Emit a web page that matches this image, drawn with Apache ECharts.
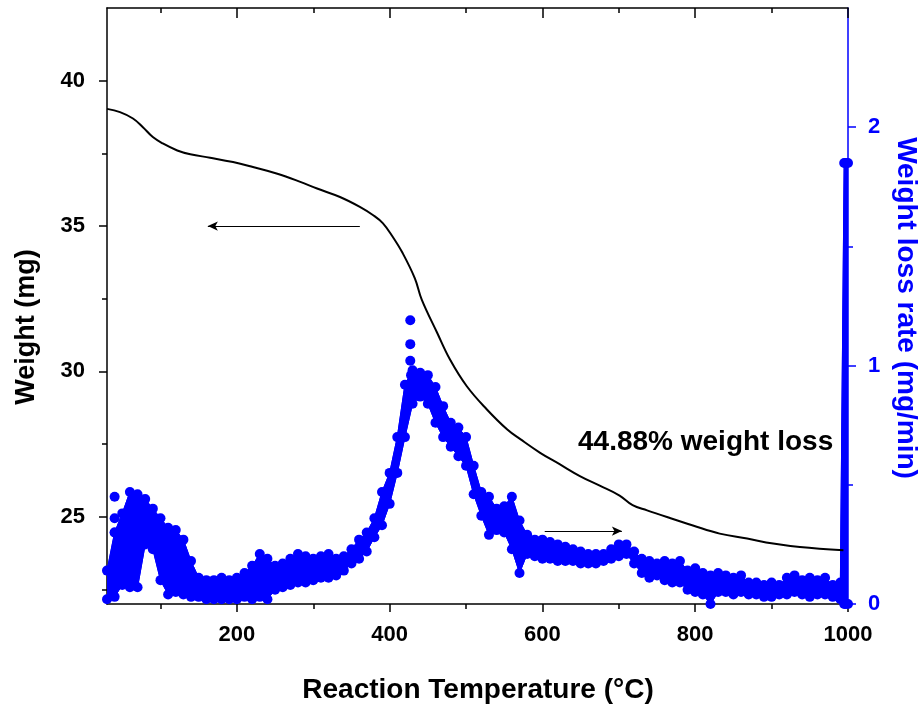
<!DOCTYPE html>
<html>
<head>
<meta charset="utf-8">
<script src="https://cdn.jsdelivr.net/npm/echarts@6/dist/echarts.min.js"></script>
<style>
    html, body { margin: 0; padding: 0; background: #fff; }
    #chart { width: 924px; height: 707px; }
</style>
</head>
<body>
<div id="chart"></div>
<script>
// TG curve (weight, mg)
var weightTemp = [30, 47, 64, 77, 90, 103, 122, 139, 165, 195, 221, 253, 283, 305, 335, 361, 378, 391, 404, 417,
    433, 442, 462, 479, 501, 527, 554, 571, 597, 623, 649, 675, 701, 718, 737, 763, 797, 832, 868, 902, 937, 994];
var weightValue = [39.03, 38.92, 38.7, 38.4, 38.06, 37.84, 37.6, 37.47, 37.35, 37.2, 37.03, 36.8, 36.52, 36.29, 36.0, 35.66, 35.38, 35.1, 34.63, 34.07,
    33.2, 32.47, 31.34, 30.41, 29.49, 28.7, 28.0, 27.67, 27.2, 26.8, 26.4, 26.07, 25.73, 25.4, 25.22, 24.99, 24.7, 24.42, 24.25, 24.08, 23.96, 23.85];

// DTG curve (weight loss rate, mg/min): the noisy band, upper and lower edge
var rateTemp = [
    30, 40, 50, 60, 70, 80, 90, 100, 110, 120, 130, 140, 150, 160, 170, 180, 190, 200, 210, 220,
    230, 240, 250, 260, 270, 280, 290, 300, 310, 320, 330, 340, 350, 360, 370, 380, 390, 400, 410, 420,
    430, 440, 450, 460, 470, 480, 490, 500, 510, 520, 530, 540, 550, 560, 570, 580, 590, 600, 610, 620,
    630, 640, 650, 660, 670, 680, 690, 700, 710, 720, 730, 740, 750, 760, 770, 780, 790, 800, 810, 820,
    830, 840, 850, 860, 870, 880, 890, 900, 910, 920, 930, 940, 950, 960, 970, 980, 990, 995, 997, 1000
];
var rateHigh = [
    0.14, 0.30, 0.38, 0.47, 0.46, 0.44, 0.40, 0.36, 0.32, 0.31, 0.27, 0.18, 0.11, 0.10, 0.10, 0.11, 0.10, 0.11, 0.13, 0.16,
    0.21, 0.19, 0.16, 0.17, 0.19, 0.21, 0.20, 0.19, 0.20, 0.21, 0.19, 0.20, 0.23, 0.27, 0.30, 0.36, 0.47, 0.55, 0.70, 0.92,
    0.98, 0.97, 0.96, 0.91, 0.83, 0.76, 0.74, 0.70, 0.58, 0.47, 0.45, 0.40, 0.41, 0.45, 0.35, 0.29, 0.27, 0.27, 0.26, 0.25,
    0.24, 0.23, 0.22, 0.21, 0.21, 0.21, 0.23, 0.25, 0.25, 0.22, 0.19, 0.18, 0.17, 0.18, 0.17, 0.18, 0.14, 0.15, 0.13, 0.12,
    0.13, 0.12, 0.11, 0.12, 0.09, 0.09, 0.08, 0.09, 0.08, 0.11, 0.12, 0.10, 0.11, 0.10, 0.11, 0.08, 0.09, 1.85, 1.85, 1.85
];
var rateLow = [
    0.02, 0.03, 0.08, 0.07, 0.07, 0.25, 0.23, 0.10, 0.04, 0.05, 0.04, 0.03, 0.03, 0.02, 0.02, 0.02, 0.02, 0.02, 0.03, 0.02,
    0.03, 0.02, 0.06, 0.07, 0.08, 0.09, 0.09, 0.10, 0.11, 0.11, 0.12, 0.14, 0.17, 0.19, 0.22, 0.28, 0.33, 0.42, 0.55, 0.70,
    0.84, 0.87, 0.84, 0.76, 0.70, 0.66, 0.62, 0.58, 0.46, 0.37, 0.29, 0.31, 0.30, 0.23, 0.13, 0.21, 0.20, 0.19, 0.19, 0.18,
    0.18, 0.18, 0.17, 0.17, 0.17, 0.18, 0.19, 0.20, 0.21, 0.17, 0.13, 0.11, 0.12, 0.10, 0.09, 0.09, 0.06, 0.05, 0.04, 0.00,
    0.05, 0.05, 0.04, 0.05, 0.04, 0.04, 0.03, 0.03, 0.04, 0.04, 0.05, 0.04, 0.03, 0.04, 0.04, 0.03, 0.02, 0.00, 0.00, 0.00
];
// single outlying points above the band
var spikeTemp = [40, 40, 40, 427, 427, 427, 428];
var spikeValue = [0.45, 0.36, 0.30, 1.19, 1.09, 1.02, 0.96];

// ticks
var tempMajor = [200, 400, 600, 800, 1000];
var tempMinor = [100, 300, 500, 700, 900];
var weightMajor = [25, 30, 35, 40];
var weightMinor = [22.5, 27.5, 32.5, 37.5];
var rateMajor = [0, 1, 2];
var rateMinor = [0.5, 1.5];

var BLUE = '#0000ff';
var FONT = '"Liberation Sans", Arial, sans-serif';

function pairs(xs, ys) {
    var out = [];
    for (var i = 0; i < xs.length; i++) out.push([xs[i], ys[i]]);
    return out;
}

function xAx(pos, ticks, len, inside, withLabel, withLine) {
    return {
        type: 'value', position: pos, min: 30, max: 1000,
        axisLine: { show: withLine, onZero: false, lineStyle: { color: '#000', width: 1.5 } },
        axisTick: { show: true, inside: inside, length: len, customValues: ticks, lineStyle: { color: '#000', width: 1.5 } },
        axisLabel: withLabel ? {
            show: true, customValues: ticks, margin: 20, color: '#000', fontSize: 22, fontWeight: 'bold', fontFamily: FONT,
            formatter: function (v) { return String(v); }
        } : { show: false },
        splitLine: { show: false }
    };
}

function yAx(pos, min, max, ticks, len, color, withLabel, withLine) {
    return {
        type: 'value', position: pos, min: min, max: max,
        axisLine: { show: withLine, onZero: false, lineStyle: { color: color, width: 1.5 } },
        axisTick: { show: true, length: len, customValues: ticks, lineStyle: { color: color, width: 1.5 } },
        axisLabel: withLabel ? {
            show: true, customValues: ticks, margin: pos === 'left' ? 22 : 20, color: color, fontSize: 22, fontWeight: 'bold', fontFamily: FONT,
            formatter: function (v) { return String(v); }
        } : { show: false },
        splitLine: { show: false }
    };
}

// band between the two edges, as one polygon placed through the axes
function renderBand(params, api) {
    var pts = [];
    for (var i = 0; i < rateTemp.length; i++) {
        pts.push(api.coord([rateTemp[i], rateHigh[i]]));
    }
    for (var j = rateTemp.length - 1; j >= 0; j--) {
        pts.push(api.coord([rateTemp[j], rateLow[j]]));
    }
    return {
        type: 'polygon',
        shape: { points: pts },
        style: { fill: BLUE, stroke: BLUE, lineWidth: 1 }
    };
}

function edgeSeries(name, values) {
    return {
        name: name,
        type: 'line',
        xAxisIndex: 0,
        yAxisIndex: 1,
        data: pairs(rateTemp, values),
        symbol: 'circle',
        symbolSize: 10,
        itemStyle: { color: BLUE },
        lineStyle: { color: BLUE, width: 1 },
        z: 3
    };
}

var myChart = echarts.init(document.getElementById('chart'));
var option = {
    animation: false,
    backgroundColor: '#fff',
    grid: { left: 107, right: 76, top: 8, bottom: 103, outerBoundsMode: 'none' },
    xAxis: [
        xAx('bottom', tempMajor, 8, false, true, true),
        xAx('bottom', tempMinor, 5, false, false, false),
        xAx('top', tempMajor, 10, true, false, true),
        xAx('top', tempMinor, 5, true, false, false)
    ],
    yAxis: [
        yAx('left', 22, 42.5, weightMajor, 8, '#000', true, true),
        yAx('right', 0, 2.5, rateMajor, 8, BLUE, true, true),
        yAx('left', 22, 42.5, weightMinor, 5, '#000', false, false),
        yAx('right', 0, 2.5, rateMinor, 5, BLUE, false, false)
    ],
    series: [
        {
            name: 'rate band',
            type: 'custom',
            xAxisIndex: 0,
            yAxisIndex: 1,
            data: [[rateTemp[0], rateLow[0]]],
            renderItem: renderBand,
            clip: true,
            silent: true,
            z: 2
        },
        edgeSeries('rate high', rateHigh),
        edgeSeries('rate low', rateLow),
        {
            name: 'rate spikes',
            type: 'scatter',
            xAxisIndex: 0,
            yAxisIndex: 1,
            data: pairs(spikeTemp, spikeValue),
            symbol: 'circle',
            symbolSize: 10,
            itemStyle: { color: BLUE, opacity: 1 },
            z: 4,
            markLine: {
                silent: true,
                symbol: ['none', 'arrow'],
                symbolSize: [7, 10],
                label: { show: false },
                lineStyle: { color: '#000', width: 1, type: 'solid' },
                data: [[{ coord: [603, 0.306] }, { coord: [704, 0.306] }]]
            }
        },
        {
            name: 'Weight',
            type: 'line',
            xAxisIndex: 0,
            yAxisIndex: 0,
            data: pairs(weightTemp, weightValue),
            smooth: 0.4,
            symbol: 'none',
            lineStyle: { color: '#000', width: 2 },
            z: 5,
            markLine: {
                silent: true,
                symbol: ['none', 'arrow'],
                symbolSize: [7, 10],
                label: { show: false },
                lineStyle: { color: '#000', width: 1, type: 'solid' },
                data: [[{ coord: [361, 35] }, { coord: [162, 35] }]]
            }
        }
    ],
    graphic: [
        {
            type: 'text', left: 578, top: 428,
            style: { text: '44.88% weight loss', fill: '#000', font: 'bold 28px ' + FONT }
        },
        {
            type: 'text', x: 478, y: 690,
            style: { text: 'Reaction Temperature (°C)', fill: '#000', font: 'bold 28px ' + FONT, align: 'center', verticalAlign: 'middle' }
        },
        {
            type: 'text', x: 27, y: 327, rotation: Math.PI / 2,
            style: { text: 'Weight (mg)', fill: '#000', font: 'bold 27px ' + FONT, align: 'center', verticalAlign: 'middle' }
        },
        {
            type: 'text', x: 906, y: 308, rotation: -Math.PI / 2,
            style: { text: 'Weight loss rate (mg/min)', fill: BLUE, font: 'bold 28px ' + FONT, align: 'center', verticalAlign: 'middle' }
        }
    ]
};
myChart.setOption(option);
</script>
</body>
</html>
